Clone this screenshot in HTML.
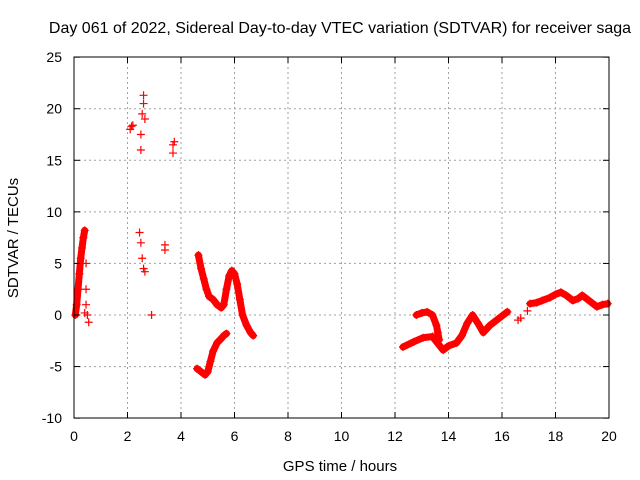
<!DOCTYPE html>
<html><head><meta charset="utf-8"><style>
body{margin:0;background:#fff}
svg{display:block;font-family:"Liberation Sans",sans-serif}
</style></head><body>
<svg id="chart" width="640" height="480" viewBox="0 0 640 480">
<text x="340" y="33" text-anchor="middle" font-size="16">Day 061 of 2022, Sidereal Day-to-day VTEC variation (SDTVAR) for receiver saga</text>
<g id="grid"></g>
<g id="marks"></g>
<rect x="74" y="57" width="535" height="361" fill="none" stroke="#000" stroke-width="1"/>
<g id="ticks"></g>
<text x="340" y="471" text-anchor="middle" font-size="15">GPS time / hours</text>
<text x="18" y="238" text-anchor="middle" font-size="15" transform="rotate(-90 18 238)">SDTVAR / TECUs</text>
</svg>
<script>
const xTicks=[0,2,4,6,8,10,12,14,16,18,20];
const yTicks=[-10,-5,0,5,10,15,20,25];
const seg1T=[0.05,0.1,0.15,0.2,0.25,0.3,0.35,0.4];
const seg1V=[0,1,2.5,4,5.5,6.5,7.5,8.2];
const scatT=[0.45,0.45,0.45,0.5,0.55,0.4,2.1,2.15,2.2,2.5,2.5,2.55,2.6,2.6,2.65,2.9,3.4,3.4,3.7,3.7,3.75,2.45,2.5,2.55,2.6,2.65,16.6,16.7,16.95];
const scatV=[5,2.5,1,0,-0.7,0.2,18,18.3,18.4,16,17.5,19.5,20.5,21.3,19,0,6.3,6.8,15.7,16.5,16.8,8,7,5.5,4.5,4.2,-0.5,-0.3,0.4];
const seg2T=[4.65,4.75,4.85,4.95,5.05,5.2,5.35,5.5,5.6,5.7,5.8,5.9,6.0,6.1,6.2,6.3,6.45,6.6,6.7];
const seg2V=[5.8,4.5,3.5,2.5,1.8,1.5,1,0.7,1,2.5,3.8,4.3,4,3,1.5,0,-1,-1.7,-2];
const seg3T=[4.6,4.75,4.9,5.0,5.1,5.2,5.35,5.5,5.6,5.7];
const seg3V=[-5.2,-5.5,-5.8,-5.5,-4.5,-3.5,-2.7,-2.3,-2,-1.8];
const seg4T=[12.3,12.7,13.05,13.4,13.8,14.0,14.3,14.5,14.7,14.9,15.1,15.3,15.55,15.8,16.0,16.2];
const seg4V=[-3.1,-2.6,-2.2,-2.1,-3.4,-3,-2.7,-2,-0.8,0,-0.8,-1.7,-1,-0.5,-0.1,0.3];
const seg5T=[12.8,13.0,13.2,13.4,13.55,13.6,13.65];
const seg5V=[0,0.2,0.3,0,-1,-1.7,-2.4];
const seg6T=[17.05,17.3,17.5,17.8,18.0,18.2,18.4,18.65,18.85,19.0,19.2,19.55,19.75,19.95];
const seg6V=[1.1,1.2,1.4,1.7,2,2.2,1.9,1.4,1.6,1.9,1.5,0.8,1,1.1];

const NS='http://www.w3.org/2000/svg';
const X=h=>74+h*26.75, Y=v=>315-v*10.314;
const grid=document.getElementById('grid'),ticks=document.getElementById('ticks'),marks=document.getElementById('marks');
function mk(tag,attrs,parent){const e=document.createElementNS(NS,tag);for(const k in attrs)e.setAttribute(k,attrs[k]);parent.appendChild(e);return e;}
xTicks.forEach(t=>{
  if(t>0&&t<20){const g=mk('line',{x1:X(t),x2:X(t),y1:57,y2:418,stroke:'#a0a0a0','stroke-dasharray':'2,3'},grid);
  
  }
  const l=mk('text',{x:X(t),y:441,'text-anchor':'middle','font-size':'14'},ticks);l.textContent=t;
  
  
  mk('line',{x1:X(t),x2:X(t),y1:418,y2:412,stroke:'#000'},ticks);
  mk('line',{x1:X(t),x2:X(t),y1:57,y2:63,stroke:'#000'},ticks);
});
yTicks.forEach(t=>{
  if(t>-10&&t<25){const g=mk('line',{x1:74,x2:609,y1:Y(t),y2:Y(t),stroke:'#a0a0a0','stroke-dasharray':'2,3'},grid);
  
  }
  const l=mk('text',{x:62,y:Y(t)+5,'text-anchor':'end','font-size':'14'},ticks);l.textContent=t;
  
  
  mk('line',{x1:74,x2:80,y1:Y(t),y2:Y(t),stroke:'#000'},ticks);
  mk('line',{x1:603,x2:609,y1:Y(t),y2:Y(t),stroke:'#000'},ticks);
});
function plus(h,v){const x=X(h),y=Y(v);
  const p=mk('path',{d:`M${x-4},${y}H${x+4}M${x},${y-4}V${y+4}`,stroke:'#f00','stroke-width':'1.2',fill:'none'},marks);
  
  }
function series(T,V,name){
  const pl=mk('polyline',{points:T.map((t,i)=>X(t)+','+Y(V[i])).join(' '),stroke:'#f00','stroke-width':'7',fill:'none','stroke-linejoin':'round','stroke-linecap':'round'},marks);
  
  
  T.forEach((t,i)=>plus(t,V[i]));}
series(seg1T,seg1V,'trace-early');
series(seg2T,seg2V,'trace-midday-upper');
series(seg3T,seg3V,'trace-midday-lower');
series(seg4T,seg4V,'trace-evening-lower');
series(seg5T,seg5V,'trace-evening-bump');
series(seg6T,seg6V,'trace-late');
scatT.forEach((t,i)=>plus(t,scatV[i]));
</script>
</body></html>
